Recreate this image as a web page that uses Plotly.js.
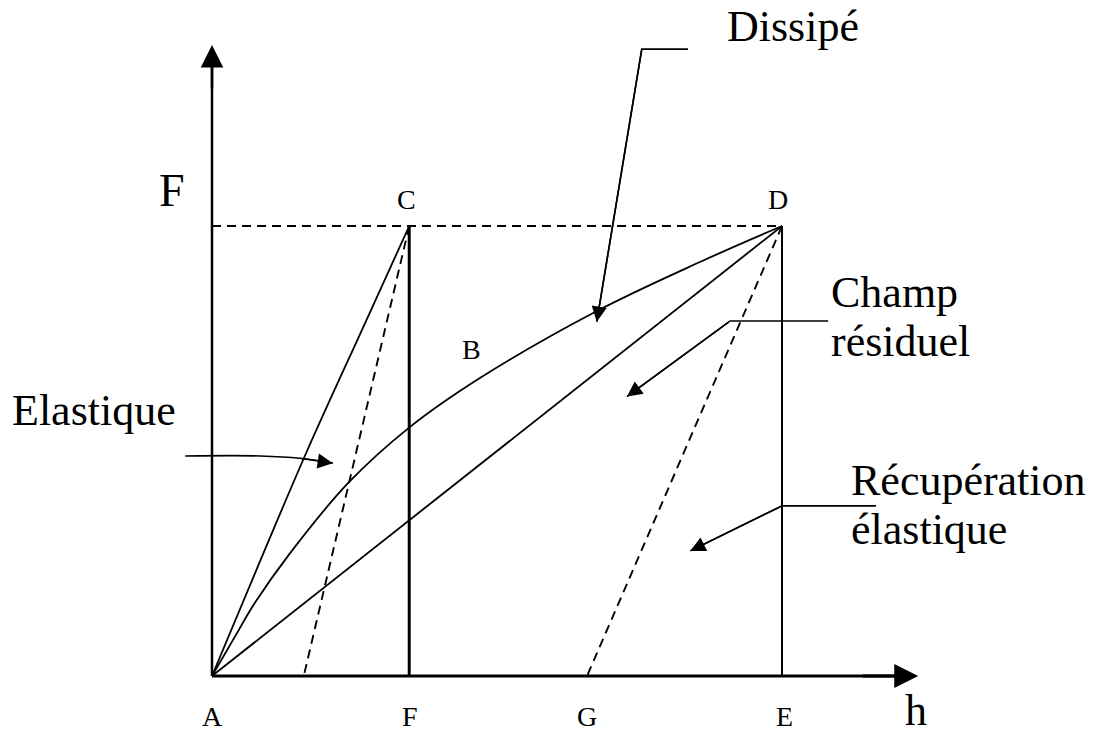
<!DOCTYPE html>
<html>
<head>
<meta charset="utf-8">
<script src="https://cdn.plot.ly/plotly-3.0.1.min.js"></script>
<style>html,body{margin:0;padding:0;background:#fff;}#chart{width:1100px;height:738px;}</style>
</head>
<body>
<div id="chart"></div>
<script>
// ---- data (h, F in schematic units: A = 0, E = 10, C/D force = 10) ----
const loadCurveH = [0, 0.40, 0.75, 1.37, 2.39, 3.47, 4.70, 6.72, 8.56, 10];
const loadCurveF = [0, 0.87, 1.62, 2.73, 4.29, 5.53, 6.62, 8.09, 9.20, 10];
const elasticH = [0, 0.78, 1.65, 2.71, 3.46];
const elasticF = [0, 2.36, 4.95, 7.91, 10];
const straightH = [0, 10];
const straightF = [0, 10];
const unloadCH = [3.46, 1.61];
const unloadCF = [10, 0];
const unloadDH = [10, 6.58];
const unloadDF = [10, 0];
const maxForce = 10;
const hC = 3.46, hD = 10;
const axisEndH = 12.39, axisEndF = 14.02;

const bottomLabels = ['A', 'F', 'G', 'E'];
const bottomLabelH = [0, 3.47, 6.58, 10.05];
const topLabels = ['C', 'D'];
const topLabelH = [3.42, 9.93];

// leader lines (polyline, last point = arrow tip)
const leaderElastH = [-0.47, 0.84, 1.54, 2.12];
const leaderElastF = [4.89, 4.89, 4.84, 4.73];
const leaderDissH = [8.35, 7.54, 6.75];
const leaderDissF = [13.93, 13.93, 7.87];
const leaderChampH = [10.81, 9.09, 7.28];
const leaderChampF = [7.89, 7.89, 6.21];
const leaderRecH = [11.65, 10.0, 8.39];
const leaderRecF = [3.78, 3.78, 2.78];

// ---- pixel-to-unit framing ----
const X0 = 212, SX = 57, Y0 = 676, SY = 45, W = 1100, H = 738;
const xr = [(0 - X0) / SX, (W - X0) / SX];
const yr = [(Y0 - H) / SY, (Y0 - 0) / SY];

const serif = "'Liberation Serif', 'Times New Roman', serif";
const lw = 1.8;
function ln(x, y, opts) {
  return Object.assign({type: 'scatter', mode: 'lines', x: x, y: y, hoverinfo: 'skip', showlegend: false,
    line: Object.assign({color: '#000', width: lw}, opts || {})});
}

const traces = [
  ln([0, hD], [maxForce, maxForce], {dash: '9px,6px', width: 1.8}),
  ln(elasticH, elasticF, {shape: 'spline', smoothing: 1}),
  ln(loadCurveH, loadCurveF, {shape: 'spline', smoothing: 1}),
  ln(straightH, straightF),
  ln(unloadCH, unloadCF, {dash: '9px,6px', width: 1.9}),
  ln(unloadDH, unloadDF, {dash: '9px,6px', width: 1.9}),
  ln([hC, hC], [0, maxForce], {width: 3}),
  ln([hD, hD], [0, maxForce], {width: 2}),
  ln([0, 0], [0, axisEndF - 0.3], {width: 2.5}),
  ln([0, axisEndH - 0.3], [0, 0], {width: 3}),
  ln(leaderElastH, leaderElastF, {width: 1.6, shape: 'spline'}),
  ln(leaderDissH, leaderDissF, {width: 1.6}),
  ln(leaderChampH, leaderChampF, {width: 1.6}),
  ln(leaderRecH, leaderRecF, {width: 1.6})
];

function arrow(hx, fy, tx, ty, w, s) {
  return {x: hx, y: fy, ax: tx, ay: ty, xref: 'x', yref: 'y', axref: 'x', ayref: 'y',
    text: '', showarrow: true, arrowhead: 2, arrowsize: s, arrowwidth: w, arrowcolor: '#000', standoff: 0};
}
function lastArrow(hs, fs) {
  const n = hs.length;
  return arrow(hs[n - 1], fs[n - 1], hs[n - 2], fs[n - 2], 1.6, 1.9);
}
function label(t, x, y, size, xa) {
  return {x: x, y: y, xref: 'x', yref: 'y', text: t, showarrow: false, xanchor: xa || 'center', yanchor: 'middle',
    font: {family: serif, size: size, color: '#000'}};
}

const annotations = [
  arrow(0, axisEndF, 0, axisEndF - 1, 2.5, 1.8),
  arrow(axisEndH, 0, axisEndH - 1, 0, 3, 1.6),
  lastArrow(leaderElastH, leaderElastF),
  lastArrow(leaderDissH, leaderDissF),
  lastArrow(leaderChampH, leaderChampF),
  lastArrow(leaderRecH, leaderRecF)
];
bottomLabels.forEach((t, i) => annotations.push(label(t, bottomLabelH[i], (Y0 - 716) / SY, 28)));
topLabels.forEach((t, i) => annotations.push(label(t, topLabelH[i], (Y0 - 199) / SY, 28)));
annotations.push(label('B', (471 - X0) / SX, (Y0 - 349) / SY, 28));
annotations.push(label('F', (172 - X0) / SX, (Y0 - 190) / SY, 46));
annotations.push(label('h', (916 - X0) / SX, (Y0 - 710) / SY, 44));
annotations.push(label('Dissipé', (793 - X0) / SX, (Y0 - 26) / SY, 44));
annotations.push(label('Champ', (829 - X0) / SX, (Y0 - 292) / SY, 44, 'left'));
annotations.push(label('résiduel', (829 - X0) / SX, (Y0 - 341) / SY, 44, 'left'));
annotations.push(label('Elastique', (10 - X0) / SX, (Y0 - 410) / SY, 44, 'left'));
annotations.push(label('Récupération', (849 - X0) / SX, (Y0 - 480) / SY, 44, 'left'));
annotations.push(label('élastique', (849 - X0) / SX, (Y0 - 529) / SY, 44, 'left'));

const layout = {
  width: W, height: H, autosize: false,
  margin: {l: 0, r: 0, t: 0, b: 0, pad: 0},
  paper_bgcolor: '#fff', plot_bgcolor: '#fff',
  xaxis: {range: xr, visible: false, fixedrange: true},
  yaxis: {range: yr, visible: false, fixedrange: true},
  showlegend: false,
  annotations: annotations
};

Plotly.newPlot('chart', traces, layout, {displayModeBar: false, staticPlot: true});
</script>
</body>
</html>
